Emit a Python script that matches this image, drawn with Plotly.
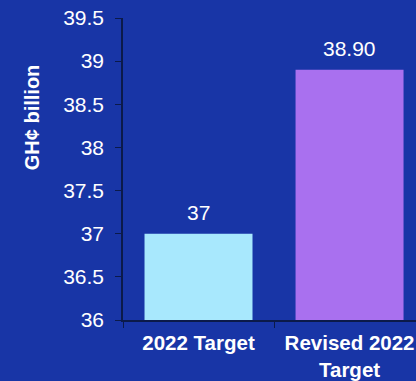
import plotly.graph_objects as go

categories = ["2022 Target", "Revised 2022<br>Target"]
values = [37, 38.9]
value_labels = ["37", "38.90"]
bar_colors = ["#a8e8fd", "#a970ef"]
y_ticks = [36, 36.5, 37, 37.5, 38, 38.5, 39, 39.5]
y_tick_text = ["36", "36.5", "37", "37.5", "38", "38.5", "39", "39.5"]
y_title = "GH¢ billion"

axis_floor = 36
bg = "#1835a6"
axis_col = "#0b1a4a"
font_family = "Liberation Sans, Arial"

fig = go.Figure()
fig.add_trace(go.Bar(
    x=categories,
    y=[v - axis_floor for v in values],
    base=axis_floor,
    marker=dict(color=bar_colors, line=dict(width=0)),
    hoverinfo="skip",
))

for cat, v, lab in zip(categories, values, value_labels):
    fig.add_annotation(
        x=cat, y=v, text=lab, showarrow=False,
        yanchor="bottom", yshift=8,
        font=dict(family=font_family, size=21, color="white"),
    )

# vertical axis title, placed in the upper part of the left margin
fig.add_annotation(
    xref="paper", yref="paper", x=-0.31, y=0.672,
    text="<b>" + y_title + "</b>", textangle=-90, showarrow=False,
    xanchor="center", yanchor="middle",
    font=dict(family=font_family, size=20, color="white"),
)

fig.update_layout(
    width=416, height=381,
    margin=dict(l=123, r=0, t=18, b=61),
    paper_bgcolor=bg, plot_bgcolor=bg,
    bargap=0.285,
    showlegend=False,
    font=dict(family=font_family, color="white"),
)
fig.update_xaxes(
    range=[-0.5, 1.44],
    showline=True, linecolor=axis_col, linewidth=1.5,
    ticks="outside", tickson="boundaries", ticklen=6, tickcolor=axis_col,
    ticklabelstandoff=4,
    showgrid=False,
    tickfont=dict(family=font_family, size=20.5, color="white", weight="bold"),
)
fig.update_yaxes(
    range=[axis_floor, 39.5],
    tickvals=y_ticks, ticktext=y_tick_text,
    showline=True, linecolor=axis_col, linewidth=1.5,
    ticks="outside", ticklen=6, tickcolor=axis_col,
    ticklabelstandoff=7,
    showgrid=False, zeroline=False,
    tickfont=dict(family=font_family, size=21, color="white"),
)

fig.write_html("out.html")
